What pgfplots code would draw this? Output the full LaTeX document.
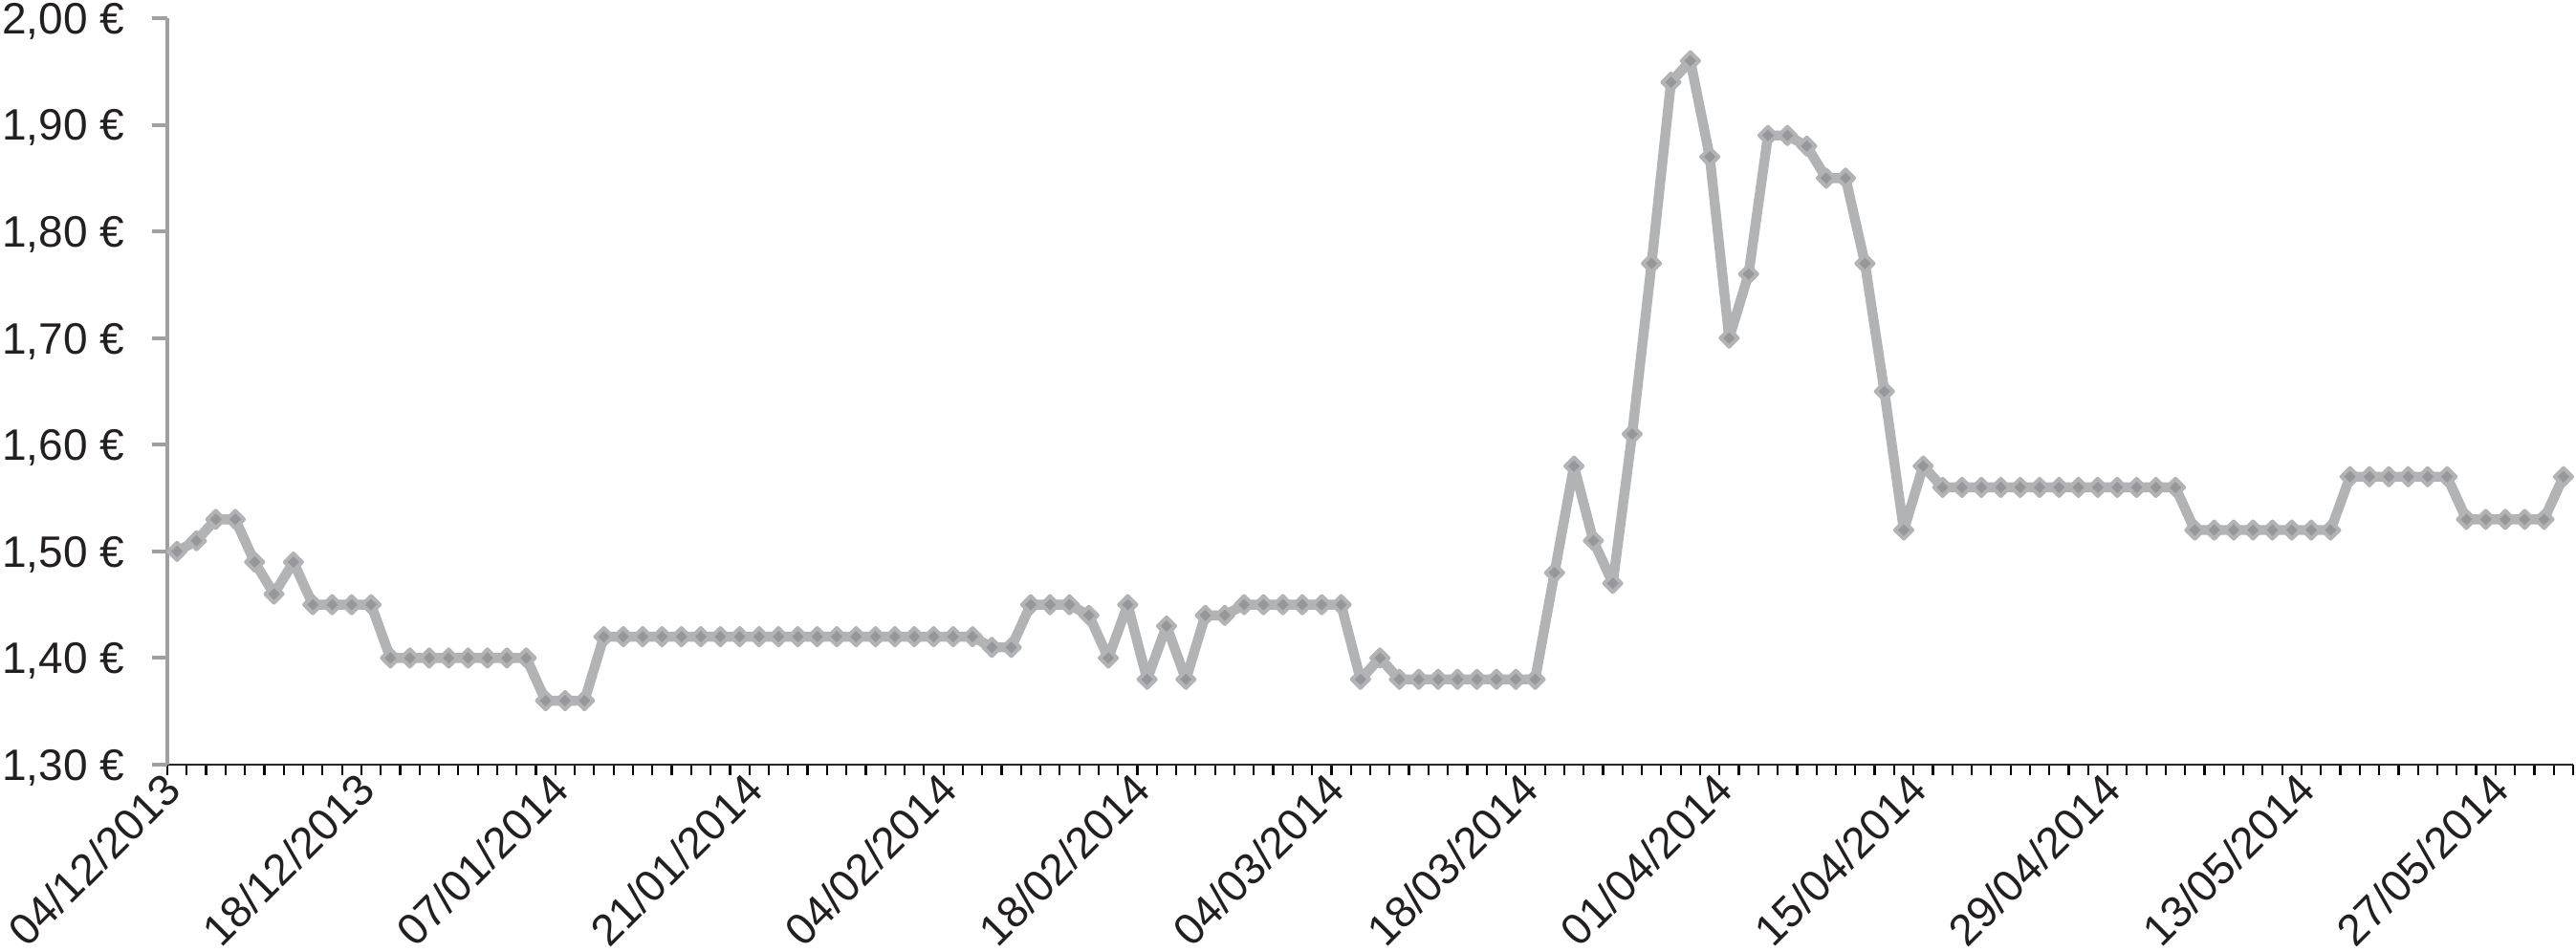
\documentclass[border=0pt]{standalone}
\usepackage{pgfplots}
\usepackage{pgfplotstable}
\pgfplotsset{compat=1.18}
\usepackage{fontspec}
\setmainfont{Liberation Sans}
\definecolor{linegray}{RGB}{178,179,181}
\definecolor{markgray}{RGB}{150,151,155}
\definecolor{axisgray}{RGB}{160,160,160}
\definecolor{textblack}{RGB}{35,31,32}
\pgfplotstableread{
y
1.50
1.51
1.53
1.53
1.49
1.46
1.49
1.45
1.45
1.45
1.45
1.40
1.40
1.40
1.40
1.40
1.40
1.40
1.40
1.36
1.36
1.36
1.42
1.42
1.42
1.42
1.42
1.42
1.42
1.42
1.42
1.42
1.42
1.42
1.42
1.42
1.42
1.42
1.42
1.42
1.42
1.42
1.41
1.41
1.45
1.45
1.45
1.44
1.40
1.45
1.38
1.43
1.38
1.44
1.44
1.45
1.45
1.45
1.45
1.45
1.45
1.38
1.40
1.38
1.38
1.38
1.38
1.38
1.38
1.38
1.38
1.48
1.58
1.51
1.47
1.61
1.77
1.94
1.96
1.87
1.70
1.76
1.89
1.89
1.88
1.85
1.85
1.77
1.65
1.52
1.58
1.56
1.56
1.56
1.56
1.56
1.56
1.56
1.56
1.56
1.56
1.56
1.56
1.56
1.52
1.52
1.52
1.52
1.52
1.52
1.52
1.52
1.57
1.57
1.57
1.57
1.57
1.57
1.53
1.53
1.53
1.53
1.53
1.57
}\pricedata
\begin{document}
\begin{tikzpicture}
\begin{axis}[
  scale only axis,
  width=629bp, height=195.25bp,
  xmin=-0.5, xmax=123.5,
  ymin=1.3, ymax=2.0,
  axis lines*=left,
  clip=false,
  tick align=outside,
  x axis line style={draw=black!85, line width=0.6bp},
  y axis line style={draw=axisgray, line width=1bp},
  xtick={0,10,...,120},
  xticklabels={04/12/2013,18/12/2013,07/01/2014,21/01/2014,04/02/2014,18/02/2014,04/03/2014,18/03/2014,01/04/2014,15/04/2014,29/04/2014,13/05/2014,27/05/2014},
  xtick style={draw=none},
  minor xtick={-0.5,0.5,...,123.5},
  minor tick length=2.7bp,
  minor x tick style={draw=black, line width=0.55bp},
  ytick={1.3,1.4,1.5,1.6,1.7,1.8,1.9,2.0},
  yticklabels={{1,30 €},{1,40 €},{1,50 €},{1,60 €},{1,70 €},{1,80 €},{1,90 €},{2,00 €}},
  ytick style={draw=axisgray, line width=1bp},
  major tick length=4bp,
  ticklabel style={font=\fontsize{11.5bp}{13bp}\selectfont, text=textblack},
  yticklabel style={anchor=east, inner sep=0pt, xshift=-7bp, yshift=-0.8bp},
  xticklabel style={xshift=-4.3bp, yshift=4.2bp, rotate=45, anchor=north east, inner sep=1bp},
]
\coordinate (O) at (rel axis cs:0,0);
\addplot[draw=linegray, line width=2.6bp, line join=round,
  mark=square*, mark size=1.6bp,
  mark options={rotate=45, fill=markgray, draw=linegray, line width=1bp, solid}]
  table[x expr=\coordindex, y=y] {\pricedata};
\end{axis}
\pgfresetboundingbox
\path ([shift={(-43.75bp,-49bp)}]O) rectangle ([shift={(629.75bp,200bp)}]O);
\end{tikzpicture}
\end{document}
